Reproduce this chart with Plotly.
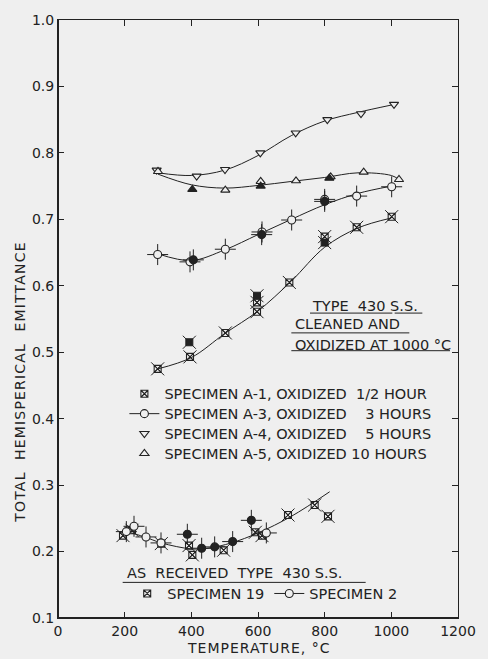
import plotly.graph_objects as go

# ---------------- data ----------------
# Specimen A-1, oxidized 1/2 hour
a1_open_t = [299, 396, 502, 597, 597, 694, 800, 896, 1001]
a1_open_e = [0.475, 0.493, 0.529, 0.561, 0.575, 0.605, 0.674, 0.688, 0.704]
a1_fill_t = [394, 597, 800]
a1_fill_e = [0.515, 0.585, 0.665]
a1_curve_t = [300, 400, 500, 600, 700, 800, 900, 1000]
a1_curve_e = [0.475, 0.492, 0.528, 0.562, 0.607, 0.658, 0.687, 0.702]

# Specimen A-3, oxidized 3 hours
a3_open_t = [299, 396, 502, 612, 701, 800, 896, 1001]
a3_open_e = [0.647, 0.636, 0.655, 0.681, 0.699, 0.730, 0.735, 0.749]
a3_fill_t = [406, 611, 800]
a3_fill_e = [0.639, 0.677, 0.727]
a3_curve_t = [300, 400, 500, 600, 700, 800, 900, 1000]
a3_curve_e = [0.648, 0.638, 0.654, 0.677, 0.700, 0.722, 0.739, 0.750]

# Specimen A-4, oxidized 5 hours
a4_t = [296, 416, 501, 607, 713, 808, 909, 1008]
a4_e = [0.774, 0.765, 0.775, 0.800, 0.830, 0.850, 0.859, 0.873]
a4_curve_t = [300, 400, 500, 600, 700, 800, 900, 1000]
a4_curve_e = [0.770, 0.766, 0.774, 0.796, 0.826, 0.848, 0.861, 0.872]

# Specimen A-5, oxidized 10 hours
a5_open_t = [300, 502, 608, 714, 818, 917, 1023]
a5_open_e = [0.772, 0.744, 0.757, 0.758, 0.764, 0.771, 0.760]
a5_fill_t = [403, 608, 814]
a5_fill_e = [0.745, 0.750, 0.762]
a5_curve_t = [300, 400, 500, 600, 700, 800, 900, 1000, 1023]
a5_curve_e = [0.768, 0.752, 0.747, 0.751, 0.757, 0.763, 0.770, 0.766, 0.760]

# As received type 430 S.S.
s19_t = [195, 222, 310, 393, 403, 497, 592, 612, 690, 770, 810]
s19_e = [0.224, 0.232, 0.212, 0.209, 0.195, 0.202, 0.229, 0.224, 0.255, 0.270, 0.253]
s2_open_t = [205, 228, 264, 309, 625]
s2_open_e = [0.230, 0.238, 0.222, 0.213, 0.228]
s2_fill_t = [388, 431, 470, 524, 580]
s2_fill_e = [0.226, 0.205, 0.207, 0.215, 0.247]
ar_curve_t = [192, 260, 310, 400, 450, 520, 600, 700, 815]
ar_curve_e = [0.232, 0.222, 0.213, 0.204, 0.205, 0.213, 0.228, 0.253, 0.290]

x_ticks = [0, 200, 400, 600, 800, 1000, 1200]
y_ticks = [0.1, 0.2, 0.3, 0.4, 0.5, 0.6, 0.7, 0.8, 0.9, 1.0]

INK = "#222222"
BG = "#efefef"
FONT = "DejaVu Sans"

fig = go.Figure()


def curve(t, e):
    fig.add_trace(go.Scatter(x=t, y=e, mode="lines", line=dict(color=INK, width=1, shape="spline", smoothing=1.0),
                             showlegend=False, hoverinfo="skip"))


def isolated(t, e):
    xs, ys = [], []
    for a, b in zip(t, e):
        xs += [a, None]
        ys += [b, None]
    return xs, ys


def square_pts(t, e, filled, name=None, legend=None):
    fig.add_trace(go.Scatter(x=t, y=e, mode="markers",
                             marker=dict(symbol="x-thin-open", size=13, color=INK, line=dict(color=INK, width=1)),
                             showlegend=False, hoverinfo="skip"))
    if filled:
        mk = dict(symbol="square", size=7, color=INK, line=dict(color=INK, width=1))
    else:
        mk = dict(symbol="square-x-open", size=7, color=INK, line=dict(width=1.1))
    fig.add_trace(go.Scatter(x=t, y=e, mode="markers", name=name, marker=mk,
                             showlegend=legend is not None, legend=legend or "legend"))


def circle_pts(t, e, filled, name=None, legend=None):
    fig.add_trace(go.Scatter(x=t, y=e, mode="markers",
                             marker=dict(symbol="cross-thin-open", size=15, color=INK, line=dict(color=INK, width=1)),
                             showlegend=False, hoverinfo="skip"))
    xs, ys = isolated(t, e)
    fig.add_trace(go.Scatter(x=xs, y=ys, mode="lines+markers", name=name, connectgaps=False,
                             line=dict(color=INK, width=1),
                             marker=dict(symbol="circle", size=8,
                                         color=INK if filled else BG, line=dict(color=INK, width=1.1)),
                             showlegend=legend is not None, legend=legend or "legend"))


def tri_pts(t, e, sym, filled, name=None, legend=None):
    fig.add_trace(go.Scatter(x=t, y=e, mode="markers", name=name,
                             marker=dict(symbol=sym, size=8, color=INK if filled else BG,
                                         line=dict(color=INK, width=1.1)),
                             showlegend=legend is not None, legend=legend or "legend"))


def lab(s):
    return '<span style="font-size:14.5px">' + s + '</span>'


NB = "\u00a0"

# curves
for t, e in [(a1_curve_t, a1_curve_e), (a3_curve_t, a3_curve_e), (a4_curve_t, a4_curve_e),
             (a5_curve_t, a5_curve_e), (ar_curve_t, ar_curve_e)]:
    curve(t, e)

square_pts(a1_open_t, a1_open_e, False, lab("SPECIMEN A-1, OXIDIZED" + NB * 2 + "1/2 HOUR"), "legend")
square_pts(a1_fill_t, a1_fill_e, True)
circle_pts(a3_open_t, a3_open_e, False, lab("SPECIMEN A-3, OXIDIZED" + NB * 4 + "3 HOURS"), "legend")
circle_pts(a3_fill_t, a3_fill_e, True)
tri_pts(a4_t, a4_e, "triangle-down", False, lab("SPECIMEN A-4, OXIDIZED" + NB * 4 + "5 HOURS"), "legend")
tri_pts(a5_open_t, a5_open_e, "triangle-up", False, lab("SPECIMEN A-5, OXIDIZED" + NB + "10 HOURS"), "legend")
tri_pts(a5_fill_t, a5_fill_e, "triangle-up", True)

square_pts(s19_t, s19_e, False, lab("SPECIMEN 19"), "legend2")
circle_pts(s2_open_t, s2_open_e, False, lab("SPECIMEN 2"), "legend2")
circle_pts(s2_fill_t, s2_fill_e, True)

ann_font = dict(family=FONT, size=14.5, color=INK)
annotations = [
    dict(x=756, y=0.5694, text="TYPE" + NB * 2 + "430 S.S."),
    dict(x=705, y=0.5425, text="CLEANED AND"),
    dict(x=705, y=0.5113, text="OXIDIZED AT 1000 °C"),
    dict(x=202, y=0.1670, text="AS" + NB * 2 + "RECEIVED" + NB * 2 + "TYPE" + NB * 2 + "430 S.S."),
]
for a in annotations:
    a.update(xref="x", yref="y", xanchor="left", yanchor="middle", showarrow=False, font=ann_font)

annotations.append(dict(xref="paper", yref="paper", x=-0.094, y=0.394, textangle=-90, showarrow=False,
                        xanchor="center", yanchor="middle",
                        text='<span style="letter-spacing:1.2px">TOTAL' + NB * 2 + 'HEMISPERICAL' + NB * 2 + 'EMITTANCE</span>',
                        font=dict(family=FONT, size=14, color=INK)))
annotations.append(dict(xref="paper", yref="paper", x=0.500, y=-0.050, showarrow=False,
                        xanchor="center", yanchor="middle",
                        text='<span style="letter-spacing:1px">TEMPERATURE, °C</span>',
                        font=dict(family=FONT, size=14, color=INK)))

shapes = []
for x0, x1, y in [(756, 1003, 0.5589), (1010, 1093, 0.5589), (700, 1054, 0.5291), (700, 1176, 0.5023),
                  (194, 923, 0.1536)]:
    shapes.append(dict(type="line", xref="x", yref="y", x0=x0, x1=x1, y0=y, y1=y,
                       line=dict(color=INK, width=1)))
# heavier left and bottom frame
shapes.append(dict(type="line", xref="paper", yref="paper", x0=0, x1=0, y0=0, y1=1, line=dict(color=INK, width=2)))
shapes.append(dict(type="line", xref="paper", yref="paper", x0=0, x1=1, y0=0, y1=0, line=dict(color=INK, width=2)))

axis_common = dict(showgrid=False, zeroline=False, showline=True, linecolor=INK, linewidth=1,
                   mirror="ticks", ticks="inside", ticklen=6, tickwidth=1, tickcolor=INK,
                   tickfont=dict(family=FONT, size=14, color=INK))

fig.update_layout(
    width=488, height=659,
    margin=dict(l=58, r=26, t=14, b=41),
    paper_bgcolor=BG, plot_bgcolor=BG,
    font=dict(family=FONT, color=INK),
    xaxis=dict(range=[0, 1200], tickvals=x_ticks, ticktext=[str(v) for v in x_ticks], **axis_common),
    yaxis=dict(range=[0.1, 1.0], tickvals=y_ticks, ticktext=[f"{v:.1f}" for v in y_ticks], **axis_common),
    legend=dict(x=0.166, y=0.400, xanchor="left", yanchor="top", bgcolor="rgba(0,0,0,0)",
                borderwidth=0, font=dict(family=FONT, size=13, color=INK), tracegroupgap=0),
    legend2=dict(x=0.173, y=0.066, xanchor="left", yanchor="top", orientation="h", bgcolor="rgba(0,0,0,0)",
                 borderwidth=0, font=dict(family=FONT, size=13, color=INK)),
    annotations=annotations,
    shapes=shapes,
)

fig.write_html("out.html")
